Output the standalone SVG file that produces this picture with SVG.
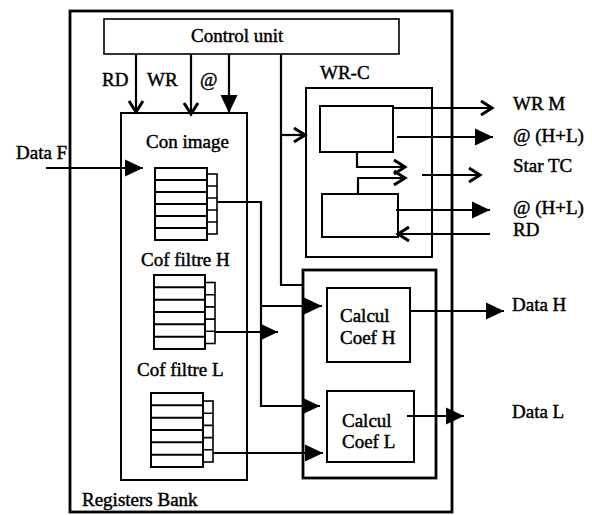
<svg xmlns="http://www.w3.org/2000/svg" width="592" height="515" viewBox="0 0 592 515" font-family="'Liberation Serif', 'Times New Roman', 'DejaVu Serif', serif">
<defs>
<style>
text{font-family:'Liberation Serif','Times New Roman','DejaVu Serif',serif;font-size:19px;fill:#000;stroke:#000;stroke-width:0.45}
.box{fill:none;stroke:#000;stroke-width:2}
.thick{fill:none;stroke:#000;stroke-width:2.8}
.thin{fill:none;stroke:#000;stroke-width:1.6}
.c{fill:none;stroke:#000;stroke-width:2.2}
.fa{marker-end:url(#fill)}
.oa{marker-end:url(#open)}
</style>
<marker id="fill" markerUnits="userSpaceOnUse" markerWidth="20" markerHeight="18" refX="18" refY="8.5" orient="auto" overflow="visible">
<path d="M0,0 L18,8.5 L0,17 z" fill="#000"/>
</marker>
<marker id="open" markerUnits="userSpaceOnUse" markerWidth="16" markerHeight="18" refX="12" refY="8" orient="auto" overflow="visible">
<path d="M1,1 L12,8 L1,15" fill="none" stroke="#000" stroke-width="3"/>
</marker>
</defs>

<g id="registers-bank">
<rect class="thick" x="70" y="11" width="382" height="501"/>
<text x="82" y="506">Registers Bank</text>
</g>

<g id="control-unit">
<rect class="thin" x="104" y="19" width="295" height="35" fill="#fff"/>
<text x="191" y="42">Control unit</text>
</g>

<g id="labels-top">
<text x="102" y="86">RD</text>
<text x="147" y="86">WR</text>
<text x="200" y="86">@</text>
</g>

<g id="con-image">
<rect class="box" x="121" y="113" width="126" height="367"/>
<text x="146" y="148">Con image</text>
</g>

<g id="reg-con-image">
<rect class="box" x="155" y="168" width="52" height="72"/>
<path class="box" d="M155,180H207M155,192H207M155,204H207M155,216H207M155,228H207"/>
<rect class="thin" x="207" y="174" width="10" height="60"/>
<path class="thin" d="M207,186H217M207,198H217M207,210H217M207,222H217"/>
</g>

<g id="reg-filtre-h">
<text x="141" y="266">Cof filtre H</text>
<rect class="box" x="154" y="275" width="51" height="74"/>
<path class="box" d="M154,287.3H205M154,299.7H205M154,312H205M154,324.3H205M154,336.7H205"/>
<rect class="thin" x="205" y="282.5" width="10" height="61"/>
<path class="thin" d="M205,294.7H215M205,306.9H215M205,319.1H215M205,331.3H215"/>
</g>

<g id="reg-filtre-l">
<text x="137" y="376">Cof filtre L</text>
<rect class="box" x="151" y="393" width="52" height="74"/>
<path class="box" d="M151,405.3H203M151,417.7H203M151,430H203M151,442.3H203M151,454.7H203"/>
<rect class="thin" x="203" y="401" width="10" height="61"/>
<path class="thin" d="M203,413.2H213M203,425.4H213M203,437.6H213M203,449.8H213"/>
</g>

<g id="wr-c">
<text x="320" y="79">WR-C</text>
<rect class="box" x="306" y="88" width="126" height="169"/>
<rect class="box" x="320" y="106" width="73" height="46"/>
<rect class="box" x="322" y="194" width="76" height="43"/>
</g>

<g id="calcul">
<rect class="thick" x="303" y="270" width="133" height="208"/>
</g>

<g id="calcul-coef-h">
<rect class="box" x="327" y="288" width="83" height="74"/>
<text x="340" y="322">Calcul</text>
<text x="340" y="344">Coef H</text>
</g>

<g id="calcul-coef-l">
<rect class="box" x="327" y="391" width="87" height="71"/>
<text x="342" y="427">Calcul</text>
<text x="342" y="448">Coef L</text>
</g>

<g id="outputs">
<text x="16" y="159">Data F</text>
<text x="513" y="110">WR M</text>
<text x="513" y="142">@ (H+L)</text>
<text x="513" y="172">Star TC</text>
<text x="513" y="214">@ (H+L)</text>
<text x="513" y="236">RD</text>
<text x="512" y="311">Data H</text>
<text x="512" y="418">Data L</text>
</g>

<g id="connectors">
<path class="c oa" d="M136,54V112"/>
<path class="c oa" d="M191,54V114"/>
<path class="c fa" d="M229,54V113"/>
<path class="c" d="M281,54V285H303"/>
<path class="c oa" d="M281,135H305"/>
<path class="c fa" d="M46,168H143"/>
<path class="c fa" d="M217,202H261V406H320"/>
<path class="c fa" d="M261,306H322"/>
<path class="c fa" d="M215,332H278"/>
<path class="c fa" d="M213,453H323"/>
<path class="c oa" d="M393,108H492"/>
<path class="c fa" d="M397,137H493"/>
<path class="c oa" d="M357,152V167H405"/>
<path class="c oa" d="M358,194V178H405"/>
<path class="c oa" d="M422,175H480"/>
<path class="c fa" d="M396,210H490"/>
<path class="c oa" d="M490,234H398"/>
<path class="c fa" d="M410,311H504"/>
<path class="c fa" d="M407,416H464"/>
</g>
</svg>
